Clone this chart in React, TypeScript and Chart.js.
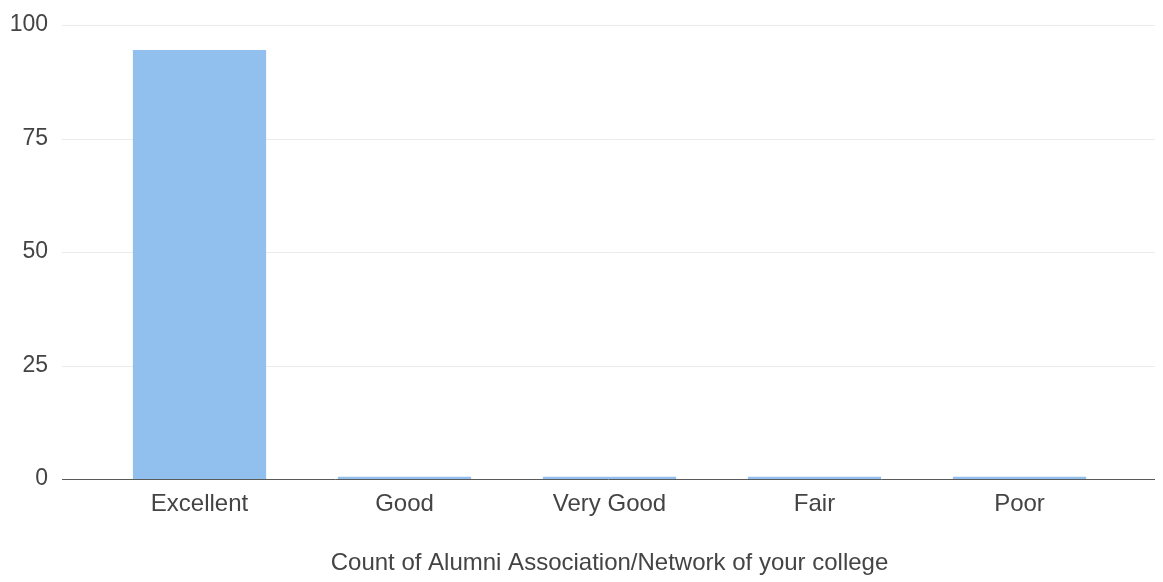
import React, { useEffect, useRef } from "react";
import { Chart, registerables } from "chart.js";

Chart.register(...registerables);

const categories = ["Excellent", "Good", "Very Good", "Fair", "Poor"];
const counts = [94.5, 0.5, 0.5, 0.5, 0.5];
const yTicks = [0, 25, 50, 75, 100];
const axisTitle = "Count of Alumni Association/Network of your college";

const FONT = "'Liberation Sans', Arial, sans-serif";

const extGrid = {
  id: "extGrid",
  beforeDatasetsDraw(chart: any) {
    const { ctx, chartArea, scales } = chart;
    const y = scales.y;
    ctx.save();
    ctx.strokeStyle = "#ebebeb";
    ctx.lineWidth = 1;
    for (const v of yTicks) {
      if (v === 0) continue;
      const py = Math.round(y.getPixelForValue(v)) + 0.5;
      ctx.beginPath();
      ctx.moveTo(chartArea.left - 35, py);
      ctx.lineTo(chartArea.right + 33, py);
      ctx.stroke();
    }
    ctx.restore();
  },
  afterDatasetsDraw(chart: any) {
    const { ctx, chartArea, scales } = chart;
    const y = scales.y;
    const py = Math.round(y.getPixelForValue(0)) + 0.5;
    ctx.save();
    ctx.strokeStyle = "#5a5a5a";
    ctx.lineWidth = 1;
    ctx.beginPath();
    ctx.moveTo(chartArea.left - 35, py);
    ctx.lineTo(chartArea.right + 33, py);
    ctx.stroke();
    ctx.restore();
  },
};

export default function App() {
  const ref = useRef<HTMLCanvasElement | null>(null);
  useEffect(() => {
    if (!ref.current) return;
    const chart = new Chart(ref.current, {
      type: "bar",
      data: {
        labels: categories,
        datasets: [
          {
            data: counts,
            backgroundColor: "#91c0ef",
            borderWidth: 0,
            barPercentage: 0.65,
            categoryPercentage: 1,
          },
        ],
      },
      options: {
        animation: false,
        responsive: true,
        maintainAspectRatio: false,
        layout: { padding: { top: 25, right: 41, left: 0, bottom: 0 } },
        plugins: {
          legend: { display: false },
          tooltip: { enabled: false },
        },
        scales: {
          x: {
            grid: { display: false, drawTicks: false },
            border: { display: false },
            ticks: {
              color: "#444",
              font: { family: FONT, size: 24 },
              padding: 11,
              maxRotation: 0,
            },
            title: {
              display: true,
              text: axisTitle,
              color: "#444",
              font: { family: FONT, size: 24 },
              padding: { top: 0, bottom: 4 },
            },
            afterFit(scale: any) {
              scale.height = 103;
            },
          },
          y: {
            min: 0,
            max: 100,
            grid: { display: false, drawTicks: false },
            border: { display: false },
            ticks: {
              stepSize: 25,
              color: "#444",
              font: { family: FONT, size: 23 },
              padding: 49,
            },
            afterFit(scale: any) {
              scale.width = 97;
              scale.paddingTop = 0;
              scale.paddingBottom = 0;
            },
          },
        },
      },
      plugins: [extGrid],
    });
    return () => chart.destroy();
  }, []);
  return (
    <div style={{ position: "absolute", left: 0, top: 0, width: 1163, height: 582, background: "#fff" }}>
      <canvas ref={ref} />
    </div>
  );
}
